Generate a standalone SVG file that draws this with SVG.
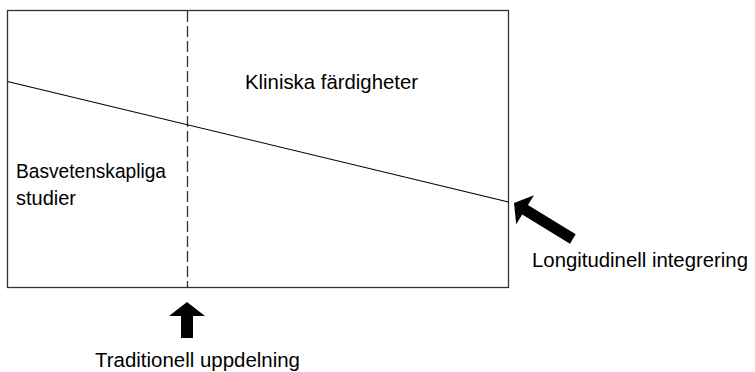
<svg xmlns="http://www.w3.org/2000/svg" width="755" height="372" viewBox="0 0 755 372">
  <style>
    .lbl { font-family: "Liberation Sans", Arial, sans-serif; font-size: 20.5px; fill: #000; }
    .frame { fill: #fff; stroke: #333; stroke-width: 1.3; }
    .line { stroke: #000; stroke-width: 1.1; fill: none; }
    .dash { stroke: #333; stroke-width: 1.3; stroke-dasharray: 11 4; fill: none; }
    .arrow { fill: #000; stroke: none; }
  </style>
  <rect width="755" height="372" fill="#fff"/>
  <g id="frame">
    <rect class="frame" x="7.5" y="10.5" width="501" height="277"/>
  </g>
  <g id="connectors">
    <line class="dash" x1="187.5" y1="11" x2="187.5" y2="287"/>
    <line class="line" x1="7.5" y1="81.5" x2="508.5" y2="202"/>
    <polygon class="arrow" points="187,302 169,316 181,316 181,338 193,338 193,316 205,316"/>
    <polygon class="arrow" transform="translate(514,203) rotate(31.5)" points="0,0 13,-17 13,-5.5 69,-5.5 69,5.5 13,5.5 13,17"/>
  </g>
  <g id="klinisk">
    <text class="lbl" x="245" y="88.5" textLength="173" lengthAdjust="spacingAndGlyphs">Kliniska färdigheter</text>
  </g>
  <g id="basvetenskap">
    <text class="lbl" x="16" y="178" textLength="150" lengthAdjust="spacingAndGlyphs">Basvetenskapliga</text>
    <text class="lbl" x="16" y="205" textLength="60" lengthAdjust="spacingAndGlyphs">studier</text>
  </g>
  <g id="longitudinell">
    <text class="lbl" x="532" y="266.5" textLength="216" lengthAdjust="spacingAndGlyphs">Longitudinell integrering</text>
  </g>
  <g id="traditionell">
    <text class="lbl" x="95" y="366.5" textLength="205" lengthAdjust="spacingAndGlyphs">Traditionell uppdelning</text>
  </g>
</svg>
